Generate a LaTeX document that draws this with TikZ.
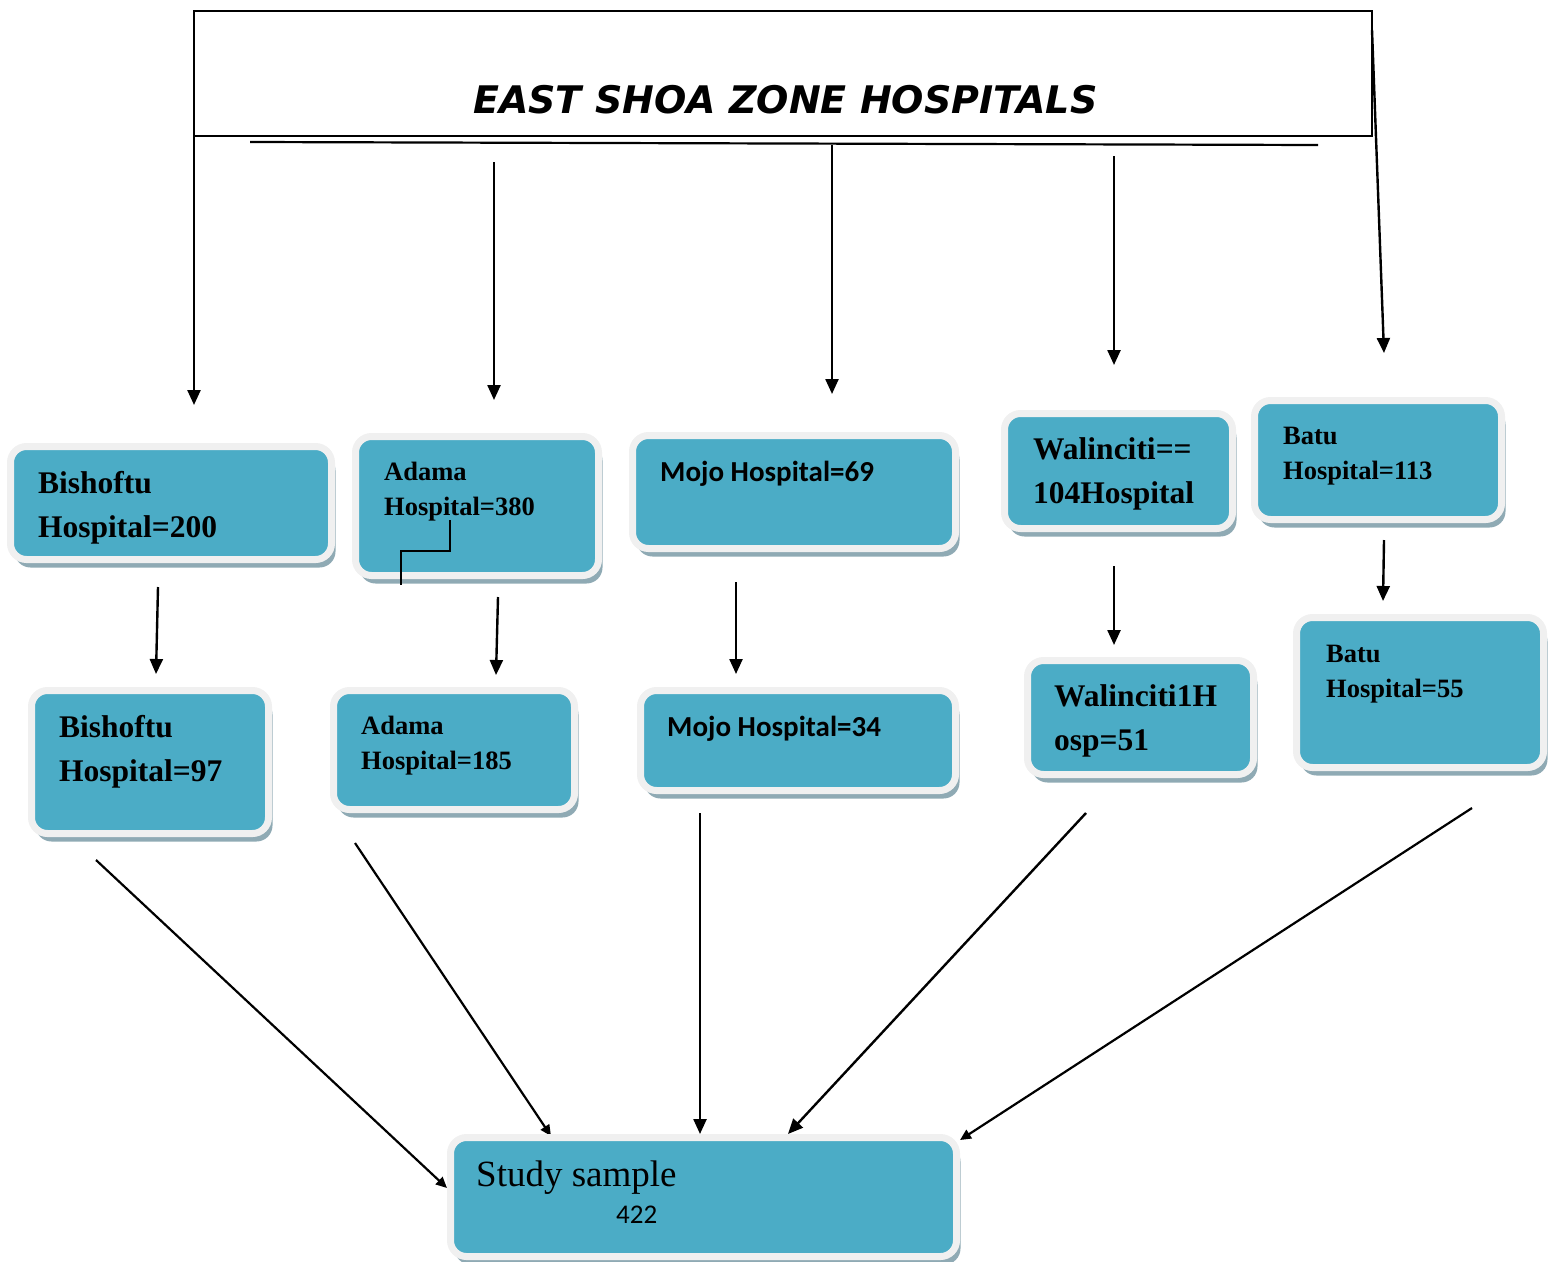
\documentclass[tikz,border=0pt]{standalone}
\usepackage{fontspec}
\setmainfont{Liberation Serif}
\newfontfamily\calib{Carlito}
\newfontfamily\verd{DejaVu Sans}
\usetikzlibrary{arrows.meta,shadows}
\definecolor{boxblue}{HTML}{4BACC6}
\definecolor{boxrim}{HTML}{F0F0F0}
\definecolor{boxshade}{HTML}{8FAAB4}
\newcommand\hospbox[5]{\node[hbx, minimum width={#4-#2+7}, minimum height={#5-#3+7}] (#1) at ({(#2+#4)/2},{(#3+#5)/2}) {};}
\begin{document}
\begin{tikzpicture}[x=1pt,y=-1pt,
  hbx/.style={rounded corners=16pt, fill=boxblue, draw=boxrim, line width=7pt, inner sep=0pt, outer sep=0pt,
    drop shadow={shadow xshift=4pt, shadow yshift=-8pt, fill=boxshade, opacity=1}},
  arr/.style={line width=2.4pt, -{Triangle[length=15pt,width=13pt]}},
  sarr/.style={line width=2.2pt, -{Triangle[length=11pt,width=10pt]}},
  plain/.style={line width=2.2pt},
  txt/.style={anchor=base west, inner sep=0pt, align=left},
  bigT/.style={txt, font=\fontsize{31.5}{44}\selectfont\bfseries},
  smallT/.style={txt, font=\fontsize{26.5}{35}\selectfont\bfseries},
  calT/.style={txt, font=\calib\fontsize{29}{34}\selectfont\bfseries}]
\useasboundingbox (0,0) rectangle (1557,1261);

% header
\node[draw, line width=2.2pt, inner sep=0pt, minimum width=1178, minimum height=125] (hdr) at (783,73.5) {};
\node[anchor=base west, inner sep=0pt, font=\verd\bfseries\itshape\fontsize{38}{40}\selectfont] (ttl) at (473,113) {EAST SHOA ZONE HOSPITALS};
\coordinate (hl1) at (250,142);
\coordinate (hl2) at (1318,145);
\draw[plain] (hl1) -- (hl2);

% top-row arrow coordinates
\coordinate (t1s) at (194,118);  \coordinate (t1e) at (194,405);
\coordinate (t2s) at (494,162);  \coordinate (t2e) at (494,400);
\coordinate (t3s) at (832,145);  \coordinate (t3e) at (832,394);
\coordinate (t4s) at (1114,156); \coordinate (t4e) at (1114,365);
\coordinate (t5s) at (1372,30);  \coordinate (t5e) at (1384,353);
\draw[arr] (t1s) -- (t1e);
\draw[arr] (t2s) -- (t2e);
\draw[arr] (t3s) -- (t3e);
\draw[arr] (t4s) -- (t4e);
\draw[arr] (t5s) -- (t5e);

% middle arrows
\coordinate (m1s) at (158,587);  \coordinate (m1e) at (156,674);
\coordinate (m2s) at (498,597);  \coordinate (m2e) at (496,675);
\coordinate (m3s) at (736,582);  \coordinate (m3e) at (736,674);
\coordinate (m4s) at (1114,566); \coordinate (m4e) at (1114,645);
\coordinate (m5s) at (1384,540); \coordinate (m5e) at (1383,601);
\draw[arr] (m1s) -- (m1e);
\draw[arr] (m2s) -- (m2e);
\draw[arr] (m3s) -- (m3e);
\draw[arr] (m4s) -- (m4e);
\draw[arr] (m5s) -- (m5e);

% bottom arrows
\coordinate (s1s) at (96,860);   \coordinate (s1e) at (447,1188);
\coordinate (s2s) at (355,843);  \coordinate (s2e) at (551,1136);
\coordinate (s3s) at (700,813);  \coordinate (s3e) at (700,1134);
\coordinate (s4s) at (1086,813); \coordinate (s4e) at (788,1134);
\coordinate (s5s) at (1472,808); \coordinate (s5e) at (960,1140);
\draw[sarr] (s1s) -- (s1e);
\draw[sarr] (s2s) -- (s2e);
\draw[arr] (s3s) -- (s3e);
\draw[arr] (s4s) -- (s4e);
\draw[sarr] (s5s) -- (s5e);

% boxes
\hospbox{b1}{14}{450}{328}{556}
\hospbox{b2}{359}{440}{595}{572}
\hospbox{b3}{636}{439}{952}{545}
\hospbox{b4}{1008}{417}{1229}{525}
\hospbox{b5}{1258}{404}{1498}{516}
\hospbox{b6}{35}{694}{265}{830}
\hospbox{b7}{337}{694}{571}{806}
\hospbox{b8}{644}{694}{952}{787}
\hospbox{b9}{1031}{664}{1250}{771}
\hospbox{b10}{1300}{621}{1540}{764}
\hospbox{b11}{454}{1141}{953}{1253}

% texts (anchor = baseline of last line)
\node[bigT] (b1t) at (38,537) {Bishoftu\\Hospital=200};
\node[smallT] (b2t) at (384,515) {Adama\\Hospital=380};
\node[calT] (b3t) at (660,481) {Mojo Hospital=69};
\node[bigT] (b4t) at (1033,503) {Walinciti==\\104Hospital};
\node[smallT] (b5t) at (1283,479) {Batu\\Hospital=113};
\node[bigT] (b6t) at (59,781) {Bishoftu\\Hospital=97};
\node[smallT] (b7t) at (361,769) {Adama\\Hospital=185};
\node[calT] (b8t) at (667,736) {Mojo Hospital=34};
\node[bigT] (b9t) at (1054,750) {Walinciti1H\\osp=51};
\node[smallT] (b10t) at (1326,697) {Batu\\Hospital=55};
\node[txt, font=\fontsize{37}{40}\selectfont] (b11t) at (476,1186) {Study sample};
\node[txt, font=\calib\fontsize{27}{30}\selectfont] (b11n) at (616,1223) {422};

% stray elbow connector in Adama box
\coordinate (e1) at (450,520);
\coordinate (ec) at (425,551);
\coordinate (e2) at (401,585);
\draw[plain] (e1) |- (ec) -| (e2);
\end{tikzpicture}
\end{document}
